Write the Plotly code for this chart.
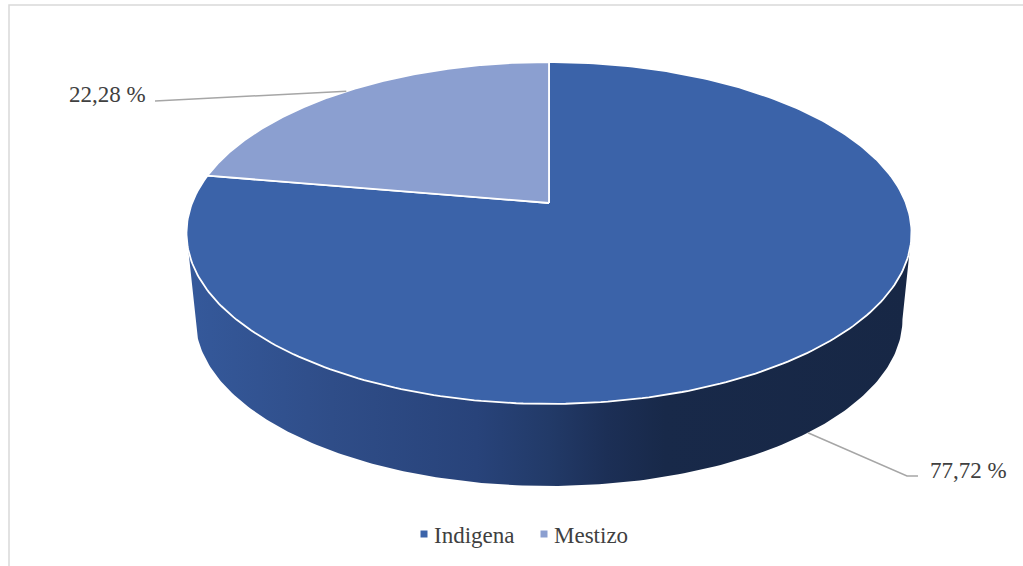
import numpy as np
import plotly.graph_objects as go

# ---- data -------------------------------------------------------------
categories = ["Indigena", "Mestizo"]
shares = [77.72, 22.28]
value_labels = ["77,72 %", "22,28 %"]
slice_colors = ["#3b63a9", "#8b9fd0"]

# ---- canvas / projection settings ---------------------------------------
W, H = 1023, 566
CX = 549.0      # horizontal centre of the pie
Q = 203.0       # screen y of the pie centre on the top face
P = -130.1      # vertical extent term of the tilted disc
K = 0.1754      # perspective strength (far side shrinks)
A = 356.9       # horizontal radius of the disc
S = 0.975       # scale of the bottom face relative to the top face
YN = 3684.0     # vanishing point of the vertical edges
TEXT = "#404040"
FONT = "Liberation Serif, 'Times New Roman', Times, serif"


def top_face(phi):
    """Project an angle (clockwise from the far side) onto the top face."""
    u, v = np.sin(phi), np.cos(phi)
    w = 1 + K * v
    return CX + A * u / w, (P * v + Q) / w


def bottom_face(phi):
    x, y = top_face(phi)
    return CX + S * (x - CX), YN + S * (y - YN)


fig = go.Figure()

# ---- side wall (front half of the cylinder) -------------------------------
phi_r = np.arccos(-K)
phi_l = 2 * np.pi - phi_r
arc = np.linspace(phi_r, phi_l, 200)
tx, ty = top_face(arc)
bx, by = bottom_face(arc[::-1])
wall_x = np.concatenate([tx, bx, tx[:1]])
wall_y = np.concatenate([ty, by, ty[:1]])
fig.add_trace(go.Scatter(
    x=wall_x, y=wall_y, mode="lines", fill="toself",
    line=dict(width=0, color="rgba(0,0,0,0)"),
    fillgradient=dict(
        type="horizontal",
        start=float(wall_x.min()), stop=float(wall_x.max()),
        colorscale=[[0.0, "#35599b"], [0.2, "#2f4d88"], [0.4, "#28437a"],
                    [0.5, "#223a68"], [0.58, "#1c2f56"], [0.66, "#182949"],
                    [1.0, "#172745"]],
    ),
    hoverinfo="skip", showlegend=False,
))

# ---- top face slices ----------------------------------------------------
fractions = np.array(shares) / sum(shares)
starts = np.concatenate([[0.0], np.cumsum(fractions)[:-1]])
mids = []
for name, f0, f, col in zip(categories, starts, fractions, slice_colors):
    ang = np.linspace(2 * np.pi * f0, 2 * np.pi * (f0 + f), 300)
    ax, ay = top_face(ang)
    xs = np.concatenate([[CX], ax, [CX]])
    ys = np.concatenate([[Q], ay, [Q]])
    fig.add_trace(go.Scatter(
        x=xs, y=ys, mode="lines", fill="toself", fillcolor=col,
        line=dict(color="white", width=1.8),
        name=name, hoverinfo="name", showlegend=False,
    ))
    mids.append(2 * np.pi * (f0 + f / 2))

# ---- leader lines and value labels ----------------------------------------
LEADER = "#a6a6a6"
# Indigena: attached to the front wall bottom edge
ix, iy = bottom_face(np.array([mids[0]]))
fig.add_trace(go.Scatter(
    x=[ix[0], 907, 918], y=[iy[0], 476, 476], mode="lines",
    line=dict(color=LEADER, width=1.5), hoverinfo="skip", showlegend=False,
))
# Mestizo: attached to the rim of the top face
mx, my = top_face(np.array([mids[1]]))
fig.add_trace(go.Scatter(
    x=[mx[0], 166, 155], y=[my[0], 100.5, 101], mode="lines",
    line=dict(color=LEADER, width=1.5), hoverinfo="skip", showlegend=False,
))

annotations = [
    dict(x=928, y=470, text=value_labels[0], xanchor="left", yanchor="middle"),
    dict(x=148, y=94, text=value_labels[1], xanchor="right", yanchor="middle"),
]

# ---- legend ------------------------------------------------------------
legend_marker_x = [424, 544]
legend_text_x = [432, 552]
fig.add_trace(go.Scatter(
    x=legend_marker_x, y=[534, 534], mode="markers",
    marker=dict(symbol="square", size=7, color=slice_colors,
                line=dict(width=0)),
    hoverinfo="skip", showlegend=False,
))
for name, lx in zip(categories, legend_text_x):
    annotations.append(dict(x=lx, y=535, text=name,
                            xanchor="left", yanchor="middle"))

for a in annotations:
    a.update(xref="x", yref="y", showarrow=False,
             font=dict(family=FONT, size=23, color=TEXT))

fig.update_layout(
    width=W, height=H,
    margin=dict(l=0, r=0, t=0, b=0),
    paper_bgcolor="white", plot_bgcolor="white",
    xaxis=dict(range=[0, W], visible=False, fixedrange=True),
    yaxis=dict(range=[H, 0], visible=False, fixedrange=True),
    annotations=annotations,
    shapes=[dict(type="rect", xref="x", yref="y", x0=9, y0=5, x1=W + 20,
                 y1=H + 20, line=dict(color="#d9d9d9", width=1.5),
                 fillcolor="rgba(0,0,0,0)", layer="below")],
    showlegend=False,
)

fig.write_html("out.html")
